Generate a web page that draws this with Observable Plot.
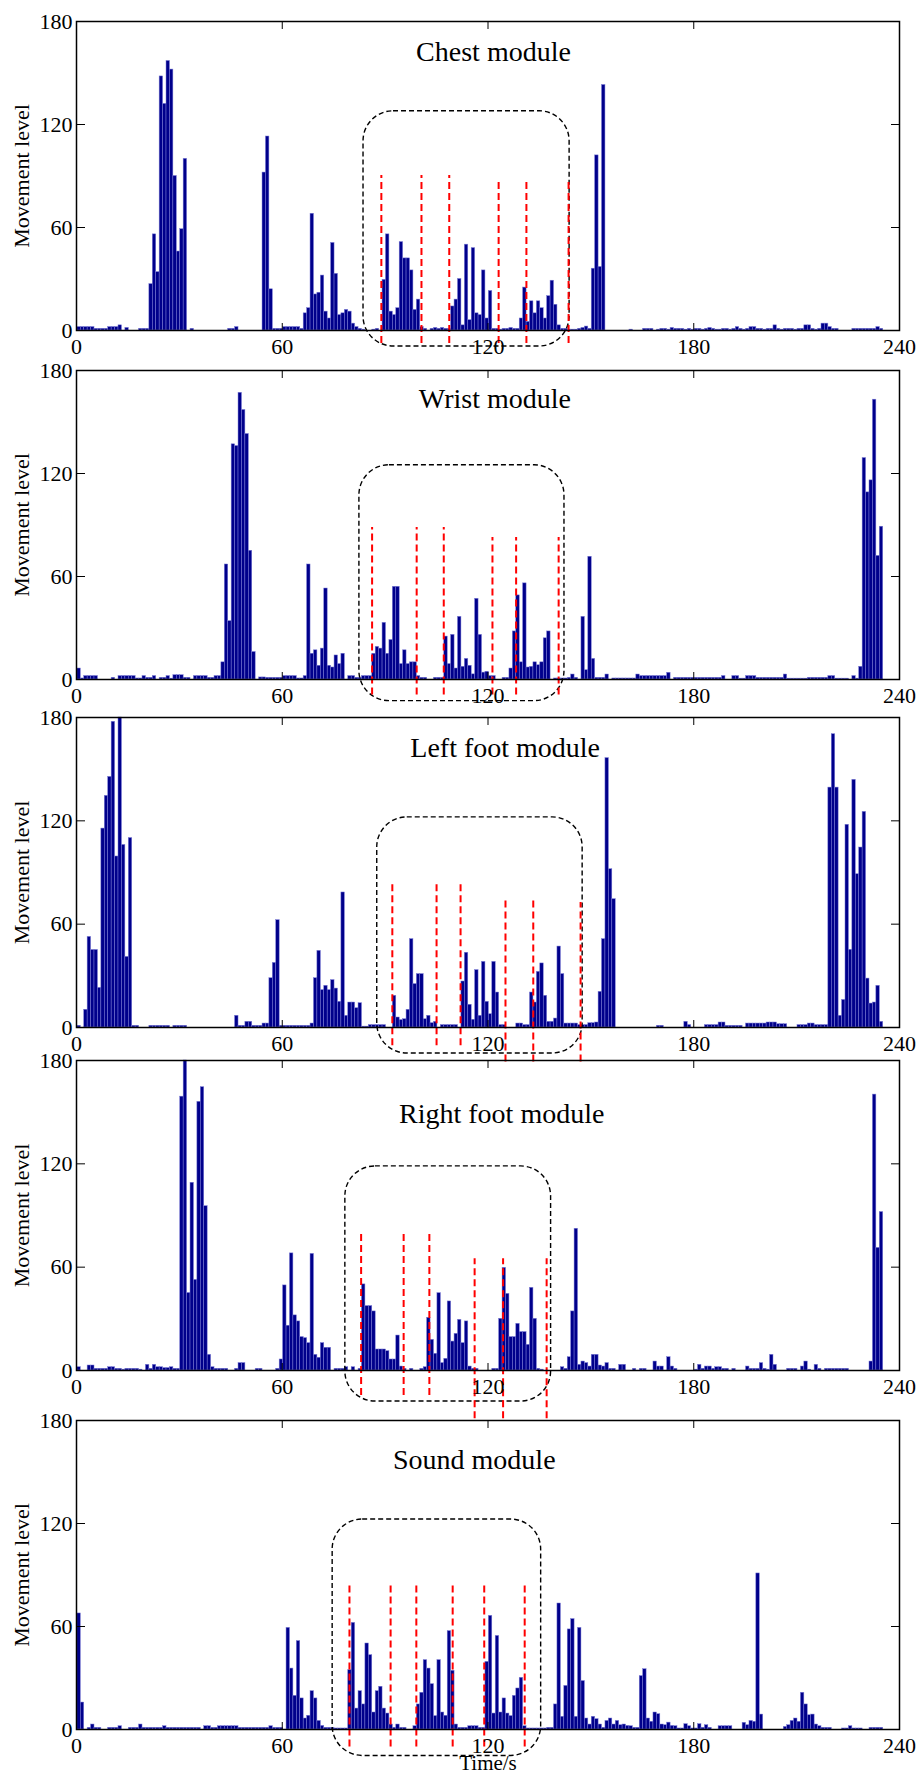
<!DOCTYPE html>
<html><head><meta charset="utf-8">
<script src="https://cdn.jsdelivr.net/npm/d3@7"></script>
<script src="https://cdn.jsdelivr.net/npm/@observablehq/plot@0.6"></script>
<style>
body{margin:0;background:#fff;}
#chart{position:relative;width:919px;height:1778px;}
#chart svg{position:absolute;left:0;overflow:visible;}
#chart svg, #chart svg text{font-family:"Liberation Serif","Times New Roman",serif !important;}
</style></head><body><div id="chart"></div>
<script>
// ---------- data ----------
const xTicks = [0, 60, 120, 180, 240];
const yTicks = [0, 60, 120, 180];
const titles = ["Chest module", "Wrist module", "Left foot module", "Right foot module", "Sound module"];
const yLabel = "Movement level";
const xLabel = "Time/s";

// movement level per second (t = 0..239)
const chest = [
2,2,2,2,2,1,1,1,1,2, 2,2,3,0,1.5,0,0,0,1,1, 1,27,56,34,148,132,157,152,90,46, 59,100,0,1,0,0,0,0,0,0,
0,0,0,0,1,1,2,0,0,0, 0,0,0,0,92,113,24,1,1,1, 2,2,2,2,2,1,10,13,68,21, 22,32,11,7,51,33,9,10,12,11,
4,2,1,0.5,0,0,0.5,1,0,29.5, 56,11,9,13,51.5,42,42,35,12,18, 2,1,0,1,1.5,1,1.5,1,1,14, 18,30,3,50,6,48,10,9,35,7,
23,1,1,0.5,1,1,1.5,1,1,7, 25,5,17,10,17,13,7,20,29,15, 3,1,1,0.5,0.5,0.5,1,1.5,2.3,1, 36,102,37,143,0,0,0,0,0,0,
0,0.5,0,0,0,1,1,1,0,0.5, 1,1,0.5,1.5,1,1,1,0.5,1,0.5, 1,1,0.5,1,1.5,1,0.5,0.5,1,1, 0.5,1,2,1,0.5,1,2,2,1,1,
0.5,1,1,3,1,0.5,1,1,1,0.5, 1,1,3,3,1,0.5,1,4,4,2, 1,1,0,0,0,0,1,1,1,1, 1,1,1,2,1,0,0,0,0,0];
const wrist = [
6.4,0.6,2,2,2,2,0,0,0,0, 1,0,2,2,2,2,2,0.6,0.6,2, 1,1,2,0,1,1,2,0.5,2.5,2.5, 2.5,1,1,0,2,2,2,2,1,1,
2,2,10,67,34,137,136,167,157,143, 75,16,0,1.2,1.2,1,1,1,1,1, 2,2,2,2,0.6,0.6,2,67,15,17, 8,18,53,8,7,14,9,15,0,2,
2,1,1,2,2,2,15,19,18,33, 15,23,54,54,9,17,9,10,10,2, 1,1,0,0,1,1,1,25,9,26, 6.4,36.5,7.4,12,8,3,47,26,4,4.5,
2,2,0,0,1,1,6.4,28,49,10, 56,7,7.4,10,8.3,10,24,28,0,0.6, 0.6,0.6,0.6,1,2.9,1,0,36.5,5.4,71.5, 12,1,1,1,2.9,0,0.6,0.6,0.6,0.6,
0.6,0.6,0.6,2.9,2,2,2,2,2,2, 2,2,3.9,0,1,1,1,1,1,1, 1,1,1,1,1,1,1,1,2,0, 0,2,2,0.5,0.5,2,2,2,1,1,
1,1,1,1,1,1,2.9,0.5,0.5,0.5, 0.5,0.5,0.5,1,1,1,1,1,1,2, 2,0.5,0.5,0.5,0.5,0,2,0.5,7.4,129, 109,116,163,72,89,0,0,0,0,0];
const leftFoot = [
1,0,10.3,52.6,45,45,23,115.5,134.5,145.5, 177.5,99.3,180,106,41,110,1,1,0,0, 0,1,1,1,1,1,1,0,1,1, 1,1,0,0,0,0,0,0,0,0,
0,0,0,0,0,0,6.8,1,1,3.3, 3.3,1,1,1,2.3,2.3,28.6,37.5,62.3,1, 1,1,1,1,1,1,1,1,2.3,28.6, 44.5,21.7,24.2,21.7,27.5,22.6,14.9,78.4,6.8,14.5,
14.5,11.2,14.1,0.5,0.5,1.4,1.4,1.4,1.4,1.4, 0,0,18.4,5.8,4.3,4.8,10.3,51.3,25.2,31, 31,4.8,6.8,2.5,3.3,0,1.4,1.4,1.4,1.4, 1.4,0,26.7,43.4,13.2,4.5,33.3,6.8,38.1,14.9,
7.7,38.1,20.3,1.4,1.4,0,0,0,2.3,2.3, 1.4,1.4,20.3,14.5,32.3,37.2,18.4,3.3,3.3,5.2, 47,31,2.3,2.3,2.3,2.3,1.4,1.4,1.4,2.5, 2.5,2.9,20.7,51.3,156.4,91.9,74.5,0,0,0,
0,0,0,0,0,0,0,0,0,1, 1,0,0,0,0,0,0,3.3,1.4,0, 0,0,0,1.4,1.4,1.4,1.4,2.9,2.9,1, 1,1,1,1,0,2.3,2.3,2.3,2.3,2.3,
2.3,2.9,2.9,2.9,1.9,1.9,1.9,0,0,0, 1.4,1.4,1.4,2.3,2.3,1.4,1.4,1.4,1.4,139.3, 170.3,139.3,6.8,16,117.7,45.1,143.8,89,104.5,125.2, 28.4,13.9,14.5,24.2,3.3,0,0,0,0,0];
const rightFoot = [
1.9,0,0,2.9,2.9,1,1,1,1,1.9, 1.9,1,1,0.5,1,1,1,1,0.5,0, 3.3,1,3.3,1.9,1.9,1.4,1.4,1.9,1,1, 159,180,45,109,52.6,156,164.5,95.4,9.1,1.9,
1,1,1,1,0,0,1,4.3,4.3,0, 0,0,1,1,0,0,0,0,1,6.4, 49.4,26,68,32,28.5,19.4,18.8,15.9,67.7,9.1, 7.4,15.9,13.2,13.2,0,1,1,1,1.9,0,
1.9,0,1,50,37.4,37.4,34.3,12.2,12.2,12.2, 11.2,6.4,6.4,20.3,2.3,1,0,1,0,0, 1,1.9,30.6,17.8,9.7,44.9,4.3,6.8,40.1,16.8, 21.3,29.4,15.9,28.5,2.3,1,1,0,0,0,
0,1,1,30,59.6,44.5,19.4,19.4,27.1,22.3, 22.3,14.9,48,30,1,0.5,0,0,0,0, 0,1.9,1,7.7,34.3,82.3,3.3,5.2,4.3,2.3, 9.1,9.1,2.9,2.3,4.3,1,1,0,3.3,3.3,
0,0,1,0,1,1,0,0,5.2,2.3, 2.3,0,7.7,2.3,1,0,0,0,0,0, 0.5,3.3,1,2.3,2.3,1,1.9,1.9,1,1, 0,1,0,0,0,2.3,1,1,1,4.3,
1,0.5,9.1,3.3,0,0,0,1,1,1, 0,2.3,5.2,0.5,0,3.3,1,0,1,1, 1,1,1,1,1,0,0,0,0,0, 0,5.2,160.2,71.2,92,0,0,0,0,0];
const sound = [
67.6,15.7,0,1,2.9,1,1,0,0,1, 1,1,1.9,0,0,1,1,1,2.9,1, 1,1,1,1,1,1.9,1,1,1,1, 1,1,1,1,1,1,0,1.9,1.9,1,
1,1.9,1.9,1.9,1.9,1.9,1.9,1,1,1, 1,1,1,1,1,1,1.9,1,1,1, 0,59.2,35.5,19.6,51.5,18.1,6.4,8,22.3,18.1, 5,2.1,1,1,1,0.6,0.6,0.6,0.6,34.6,
62.1,12.2,22.3,14.6,50.1,43.3,9.9,22.3,24.9,12.2, 9.3,2.9,1,2.9,1,1,0,0,1.9,14.6, 21.4,40.4,35.5,26.4,7.8,40.4,9.9,8,57.3,34.2, 2.9,1,1,1,1.9,1.9,1.9,1,1,39.4,
66.2,9.3,54.5,9.9,18.1,9.3,7.8,19.6,23.9,30.1, 1.9,0.6,0.6,0.6,0.6,0.6,0.6,1,1,14.6, 73.4,7.4,25.4,58.3,64.3,7.4,59.2,28.2,6.4,2.9, 7.4,6,2.9,1,5,6.4,2.9,5,2.5,2.9,
2.1,1.9,1,1,31.1,35.1,6.4,4.5,9.9,8.9, 2.9,2.5,4,2.1,1.9,0.6,0.6,3.1,1.9,0.6, 0.6,3.1,1,2.5,1,0,0,1.9,1.9,1.9, 1.9,0,0,0,3.9,2.5,5,4.5,90.9,8.7,
0,0,0,0,0,0,1.5,2.5,5,6.4, 4.5,21.4,14.6,8.3,8.7,2.9,1.9,1,1,1, 0,0,0,0.6,0.6,1.9,0.6,0.6,0.6,0, 0,1,1,1,1,0,0,0,0,0];

// segment boundaries (red dashed): [time, upper level, lower level]
const chestCuts = [[88.9,90.3,-7.6],[100.6,90.3,-7.6],[108.7,90.3,-7.6],[123.1,87.4,-7.6],[131.2,86.4,-7.6],[143.5,86.4,-7.6]];
const wristCuts = [[86.2,88.5,-9],[99.2,88.5,-9],[107.1,88.5,-9],[121.3,82.7,-9],[128.2,82.7,-9],[140.6,82.7,-9]];
const leftCuts  = [[92.1,83.3,-10.6],[105,83.3,-10.6],[112,83.3,-10.6],[125.1,74,-20],[133.2,74,-20],[147,72.6,-20]];
const rightCuts = [[83,80,-14.5],[95.4,80,-14.5],[102.9,80,-14.5],[116.1,64.9,-28],[124.4,64.9,-28],[137.1,64.9,-28]];
const soundCuts = [[79.6,85,-10.2],[91.6,85,-10.2],[99.1,85,-10.2],[109.7,85,-10.2],[118.9,85,-10.2],[130.7,85,-10.2]];

// highlighted window (black dashed rounded box): [t1, t2, low, high]
const chestBox = [83.7, 143.8, -9.3, 127.7];
const wristBox = [82.5, 142.3, -12.6, 124.8];
const leftBox  = [87.7, 147.6, -15.1, 122];
const rightBox = [78.4, 138.4, -18, 118.5];
const soundBox = [74.7, 135.5, -15.4, 122.3];

// ---------- layout ----------
const series = [chest, wrist, leftFoot, rightFoot, sound];
const cuts = [chestCuts, wristCuts, leftCuts, rightCuts, soundCuts];
const boxes = [chestBox, wristBox, leftBox, rightBox, soundBox];
const frameTop = [21, 370, 717, 1060, 1420];
const innerH = [309, 309, 310, 310, 309];
const titleX = [121.6, 122, 125, 124, 116];
const titleY = [162.1, 163.2, 162, 148.8, 157.2];

const font = '"Liberation Serif", "Times New Roman", serif';
const chart = document.getElementById("chart");

series.forEach((vals, i) => {
  const bars = vals.map((v, k) => ({k, v})).filter(d => d.v > 0);
  const MT = 20, MB = 50;
  const marks = [
    Plot.rect(bars, {x1: d => d.k + 0.25, x2: d => d.k + 1.25, y1: 0, y2: "v",
      fill: "#00008B", stroke: "#7a7ad6", strokeWidth: 0.5}),
    Plot.rect([boxes[i]], {x1: d => d[0], x2: d => d[1], y1: d => d[2], y2: d => d[3],
      rx: 30, fill: "none", stroke: "black", strokeWidth: 1.4, strokeDasharray: "5,3"}),
    Plot.ruleX(cuts[i], {x: d => d[0], y1: d => d[2], y2: d => d[1],
      stroke: "#ff0000", strokeWidth: 2, strokeDasharray: "7,4"}),
    Plot.frame({stroke: "black", strokeWidth: 1.5}),
    Plot.axisX({anchor: "bottom", ticks: xTicks, tickSize: -7, tickPadding: 15, tickFormat: d => d, fontSize: 22}),
    Plot.axisX({anchor: "top", ticks: xTicks.slice(1, -1), tickSize: -7, tickFormat: () => ""}),
    Plot.axisY({anchor: "left", ticks: yTicks, tickSize: -9, tickPadding: 13, tickFormat: d => d, fontSize: 22}),
    Plot.axisY({anchor: "right", ticks: yTicks.slice(1, -1), tickSize: -9, tickFormat: () => ""}),
    Plot.text([titles[i]], {x: titleX[i], y: titleY[i], text: d => d, fontSize: 28}),
    Plot.text([yLabel], {frameAnchor: "left", textAnchor: "middle", lineAnchor: "middle", rotate: -90, dx: -55, text: d => d, fontSize: 22})
  ];
  if (i === series.length - 1) {
    marks.push(Plot.text([xLabel], {frameAnchor: "bottom", dy: 40, text: d => d, fontSize: 21}));
  }
  const svg = Plot.plot({
    width: 919, height: MT + innerH[i] + MB,
    marginLeft: 76, marginRight: 20, marginTop: MT, marginBottom: MB,
    x: {domain: [0, 240], label: null},
    y: {domain: [0, 180], label: null},
    style: {fontFamily: font, fontSize: "21px", color: "black", background: "transparent", overflow: "visible"},
    marks
  });
  svg.style.top = (frameTop[i] - MT) + "px";
  chart.appendChild(svg);
});
</script></body></html>
